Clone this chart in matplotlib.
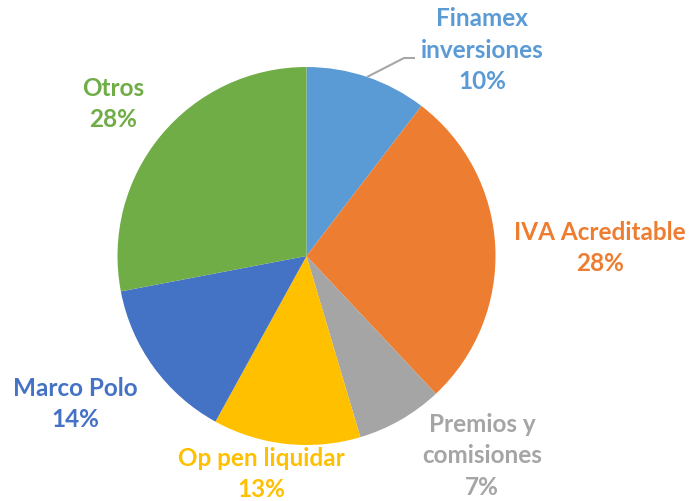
import matplotlib.pyplot as plt

categories = ['Finamex\ninversiones', 'IVA Acreditable', 'Premios y\ncomisiones',
              'Op pen liquidar', 'Marco Polo', 'Otros']
values = [10.4, 27.6, 7.4, 12.6, 14.0, 28.0]

colors = ['#5B9BD5', '#ED7D31', '#A5A5A5', '#FFC000', '#4472C4', '#70AD47']
# label block centres in pixels (from top-left)
label_pos = [(482, 50), (600, 248), (482, 456), (261, 474), (75, 404), (113, 104)]

W, H = 692, 502
fig = plt.figure(figsize=(W / 100, H / 100), dpi=100)
ax = fig.add_axes([0, 0, 1, 1])

ax.pie(values, colors=colors, startangle=90, counterclock=False,
       center=(306.5, H - 257), radius=189, frame=True,
       wedgeprops={'linewidth': 0})
ax.set_xlim(0, W)
ax.set_ylim(0, H)
ax.set_aspect('equal')
ax.axis('off')

# leader line for the first slice
ax.plot([367, 404, 415], [H - 78, H - 59, H - 59], color='#A6A6A6', lw=1.5,
        solid_capstyle='butt')

for name, val, col, (px, py) in zip(categories, values, colors, label_pos):
    ax.text(px, H - py, f'{name}\n{val:.0f}%', color=col, ha='center', va='center',
            fontsize=17.5, fontweight='bold', family='Lato', linespacing=1.45)

fig.savefig('out.png', dpi=100)
